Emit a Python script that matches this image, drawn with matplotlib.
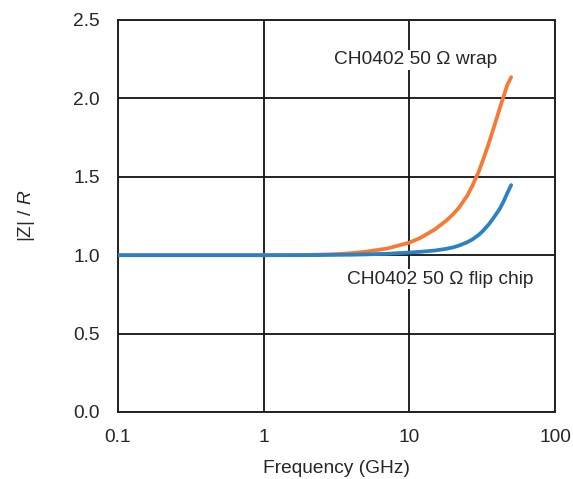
import matplotlib
matplotlib.use("Agg")
import matplotlib.pyplot as plt

plt.rcParams['font.family'] = ['Liberation Sans', 'DejaVu Sans']
plt.rcParams['mathtext.fontset'] = 'custom'
plt.rcParams['mathtext.rm'] = 'Liberation Sans'
plt.rcParams['mathtext.it'] = 'Liberation Sans:italic'

freq_ghz = [0.1, 0.2, 0.5, 1, 2, 3, 4, 5, 7, 10, 12, 15, 18, 20, 22, 25, 27, 30,
            32, 35, 37, 40, 42, 45, 47, 50]
wrap = [1.0, 1.0, 1.0, 1.0, 1.002, 1.006, 1.013, 1.022, 1.042, 1.08, 1.112, 1.165,
        1.222, 1.262, 1.305, 1.38, 1.44, 1.535, 1.605, 1.71, 1.78, 1.88, 1.945,
        2.03, 2.085, 2.135]
flip = [1.0, 1.0, 1.0, 1.0, 1.0, 1.002, 1.003, 1.005, 1.009, 1.017, 1.022, 1.03,
        1.041, 1.05, 1.062, 1.083, 1.10, 1.13, 1.155, 1.195, 1.225, 1.27, 1.30,
        1.355, 1.395, 1.447]

label_wrap = "CH0402 50 Ω wrap"
label_flip = "CH0402 50 Ω flip chip"
x_ticks = [0.1, 1, 10, 100]
x_ticklabels = ["0.1", "1", "10", "100"]
y_ticks = [0.0, 0.5, 1.0, 1.5, 2.0, 2.5]
y_ticklabels = ["0.0", "0.5", "1.0", "1.5", "2.0", "2.5"]

FS = 13.8
TXT = '#262626'

fig = plt.figure(figsize=(5.73, 4.79), dpi=100)
ax = fig.add_axes([118/573, 1-412/479, (555-118)/573, (412-20)/479])

ax.plot(freq_ghz, wrap, color='#f47a36', lw=2.7, solid_capstyle='round', zorder=3)
ax.plot(freq_ghz, flip, color='#2a82c4', lw=2.7, solid_capstyle='round', zorder=4)

ax.set_xscale('log')
ax.set_xlim(0.1, 100)
ax.set_ylim(0, 2.5)
ax.set_xticks(x_ticks)
ax.set_xticklabels(x_ticklabels)
ax.set_yticks(y_ticks)
ax.set_yticklabels(y_ticklabels)
ax.minorticks_off()
ax.tick_params(length=0, labelsize=FS, labelcolor=TXT)
ax.tick_params(axis='y', pad=13)
ax.tick_params(axis='x', pad=12)
ax.grid(True, color='#111111', lw=1.3)
ax.set_axisbelow(True)
for s in ax.spines.values():
    s.set_color('#222222')
    s.set_linewidth(1.4)

ax.set_xlabel("Frequency (GHz)", fontsize=FS, color=TXT, labelpad=10)
ax.set_ylabel("|Z| / $R$", fontsize=FS, color=TXT, labelpad=26)

ax.text(334/573, 1-60/479, label_wrap, transform=fig.transFigure, fontsize=FS,
        color=TXT, ha='left', va='center',
        bbox=dict(facecolor='white', edgecolor='none', pad=1))
ax.text(347/573, 1-279/479, label_flip, transform=fig.transFigure, fontsize=FS,
        color=TXT, ha='left', va='center',
        bbox=dict(facecolor='white', edgecolor='none', pad=1))

fig.savefig("out.png", dpi=100)
